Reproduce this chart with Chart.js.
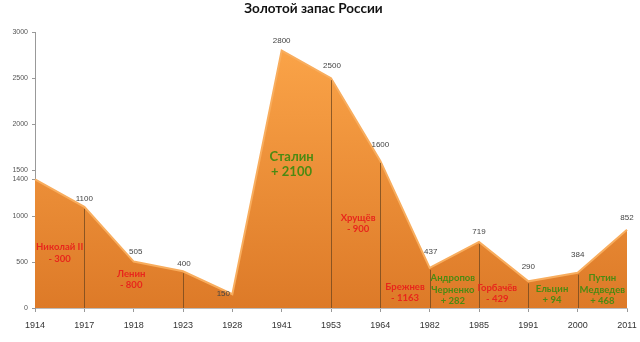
<!DOCTYPE html>
<html>
<head>
<meta charset="utf-8">
<script src="https://cdn.jsdelivr.net/npm/chart.js@4"></script>
<style>
  html, body { margin: 0; padding: 0; background: #fff; }
  #wrap { width: 640px; height: 342px; }
</style>
</head>
<body>
<div id="wrap"><canvas id="gold"></canvas></div>
<script>
const years = ["1914", "1917", "1918", "1923", "1928", "1941", "1953", "1964", "1982", "1985", "1991", "2000", "2011"];
const tonnes = [1400, 1100, 505, 400, 150, 2800, 2500, 1600, 437, 719, 290, 384, 852];
const yTicks = [0, 500, 1000, 1400, 1500, 2000, 2500, 3000];
// boundaries between rulers (index of year)
const dividers = [1, 3, 6, 7, 8, 9, 10, 11];
// ruler labels: text lines, position as (category index, value), sign
const rulers = [
  { lines: ["Николай II", "- 300"], at: 0.5, val: 600, gain: false },
  { lines: ["Ленин", "- 800"], at: 1.95, val: 310, gain: false },
  { lines: ["Сталин", "+ 2100"], at: 5.2, val: 1560, gain: true, big: true },
  { lines: ["Хрущёв", "- 900"], at: 6.55, val: 920, gain: false },
  { lines: ["Брежнев", "- 1163"], at: 7.5, val: 170, gain: false },
  { lines: ["Андропов", "Черненко", "+ 282"], at: 8.47, val: 200, gain: true },
  { lines: ["Горбачёв", "- 429"], at: 9.37, val: 160, gain: false },
  { lines: ["Ельцин", "+ 94"], at: 10.48, val: 150, gain: true },
  { lines: ["Путин", "Медведев", "+ 468"], at: 11.5, val: 200, gain: true }
];

const labelShift = [null, [0, -8], [2, -10], [1, -7], [-9, 0], [0, -10], [1, -12], [0, -16], [1, -16], [0, -10], [0, -15], [0, -18], [0, -12]];

const overlay = {
  id: "overlay",
  afterDatasetsDraw(chart) {
    const { ctx } = chart;
    const x = chart.scales.x, y = chart.scales.y;
    const base = y.getPixelForValue(0);
    ctx.save();
    ctx.strokeStyle = "rgba(110,70,30,0.75)";
    ctx.lineWidth = 1;
    dividers.forEach(i => {
      const px = Math.round(x.getPixelForValue(i)) + 0.5;
      ctx.beginPath();
      ctx.moveTo(px, base);
      ctx.lineTo(px, y.getPixelForValue(tonnes[i]) + 2);
      ctx.stroke();
    });

    ctx.fillStyle = "#444";
    ctx.font = "8px 'Liberation Sans'";
    ctx.textAlign = "center";
    ctx.textBaseline = "middle";
    tonnes.forEach((v, i) => {
      if (!labelShift[i]) return;
      const [dx, dy] = labelShift[i];
      ctx.fillText(String(v), x.getPixelForValue(i) + dx, y.getPixelForValue(v) + dy);
    });

    rulers.forEach(r => {
      const size = r.big ? 13 : 9.5;
      const lh = r.big ? 15 : 11.5;
      ctx.font = "bold " + size + "px Lato";
      ctx.fillStyle = r.gain ? "#4b8a12" : "#e8261c";
      const cx = x.getPixelForValue(0) + r.at * (x.getPixelForValue(1) - x.getPixelForValue(0));
      const cy = y.getPixelForValue(r.val);
      const top = cy - (r.lines.length - 1) * lh / 2;
      r.lines.forEach((t, k) => ctx.fillText(t, cx, top + k * lh));
    });
    ctx.restore();
  }
};

new Chart(document.getElementById("gold"), {
  type: "line",
  data: {
    labels: years,
    datasets: [{
      data: tonnes,
      fill: "origin",
      tension: 0,
      pointRadius: 0,
      borderWidth: 2,
      borderColor: "#f8ad5e",
      backgroundColor: ctx => {
        const area = ctx.chart.chartArea;
        if (!area) return "#f08c30";
        const g = ctx.chart.ctx.createLinearGradient(0, area.top, 0, area.bottom);
        g.addColorStop(0, "#fca64a");
        g.addColorStop(1, "#dd7a28");
        return g;
      }
    }]
  },
  options: {
    responsive: true,
    maintainAspectRatio: false,
    animation: false,
    layout: { padding: { left: 0, right: 13, top: 0, bottom: 0 } },
    plugins: {
      legend: { display: false },
      tooltip: { enabled: false },
      title: {
        display: true,
        text: "Золотой запас России",
        color: "#111",
        font: { family: "Lato", size: 13.5, weight: "bold" },
        padding: { top: 1, bottom: 15 }
      }
    },
    scales: {
      x: {
        offset: false,
        grid: { drawOnChartArea: false, drawTicks: true, tickLength: 4, color: "#999" },
        border: { display: true, color: "#bbb" },
        ticks: { color: "#333", font: { family: "'Liberation Sans'", size: 9 }, padding: 8, maxRotation: 0, autoSkip: false },
        afterFit: s => { s.height = 34; s.paddingRight = 0; s.paddingLeft = 0; }
      },
      y: {
        min: 0,
        max: 3000,
        afterBuildTicks: s => { s.ticks = yTicks.map(v => ({ value: v })); },
        grid: { drawOnChartArea: false, drawTicks: true, tickLength: 3, color: "#999" },
        border: { display: true, color: "#999" },
        ticks: { color: "#555", font: { family: "'Liberation Sans'", size: 7 }, padding: 4, callback: v => String(v) },
        afterFit: s => { s.width = 35; }
      }
    }
  },
  plugins: [overlay]
});
</script>
</body>
</html>
